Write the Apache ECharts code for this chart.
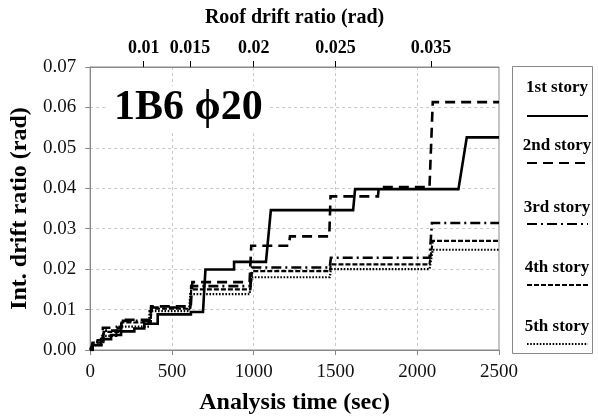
<!DOCTYPE html>
<html><head><meta charset="utf-8">
<script src="https://cdn.jsdelivr.net/npm/echarts@6/dist/echarts.min.js"></script>
<style>html,body{margin:0;padding:0;background:#fff}#c{width:598px;height:420px}</style>
</head><body><div id="c"></div>
<script>
// ---- data (time sec, inter-story drift ratio rad) ----
const storyNames = ['1st story', '2nd story', '3rd story', '4th story', '5th story'];
const story1 = [[0,0],[12,0],[12,0.0012],[67,0.0012],[67,0.0027],[128,0.0027],[128,0.0037],[189,0.0037],[189,0.0046],[270,0.0046],[270,0.0053],[331,0.0053],[331,0.0065],[413,0.0065],[413,0.0088],[616,0.0088],[616,0.0094],[690,0.0094],[705,0.0199],[880,0.0199],[880,0.0218],[1075,0.0218],[1105,0.0346],[1608,0.0346],[1620,0.0398],[2252,0.0398],[2303,0.0526],[2500,0.0526]];
const story2 = [[0,0],[15,0],[15,0.0024],[75,0.0024],[78,0.0055],[190,0.0055],[192,0.0075],[370,0.0075],[373,0.0108],[615,0.0108],[625,0.0168],[975,0.0168],[985,0.0258],[1215,0.0258],[1222,0.0281],[1462,0.0281],[1470,0.038],[1760,0.038],[1765,0.0403],[2075,0.0403],[2095,0.0613],[2500,0.0613]];
const story3 = [[0,0],[15,0],[15,0.002],[80,0.002],[82,0.0048],[190,0.0048],[192,0.0072],[370,0.0072],[373,0.0105],[612,0.0105],[618,0.0158],[980,0.0158],[990,0.0204],[1465,0.0204],[1472,0.0228],[2075,0.0228],[2090,0.0314],[2500,0.0314]];
const story4 = [[0,0],[15,0],[15,0.0018],[80,0.0018],[82,0.0045],[190,0.0045],[192,0.0068],[370,0.0068],[373,0.0102],[610,0.0102],[618,0.015],[980,0.015],[990,0.0195],[1465,0.0195],[1472,0.0212],[2075,0.0212],[2095,0.027],[2500,0.027]];
const story5 = [[0,0],[15,0],[15,0.0012],[70,0.0012],[72,0.0035],[160,0.0035],[162,0.0058],[360,0.0058],[363,0.0096],[605,0.0096],[612,0.0138],[975,0.0138],[985,0.018],[1465,0.018],[1472,0.020],[2075,0.020],[2095,0.0248],[2500,0.0248]];
const roofTickTimes = [327, 610, 1000, 1500, 2084];
const roofTickLabels = ['0.01', '0.015', '0.02', '0.025', '0.035'];
const annotationText = '1B6 \u03D520';

// ---- styles ----
const SERIF = '"Liberation Serif","Times New Roman",serif';
const dashStyles = [
  {type: 'solid', width: 2.6},
  {type: [10, 6], width: 2.6},
  {type: [10, 4, 2, 4], width: 2.6},
  {type: [5, 2], width: 2.2},
  {type: [1.6, 1.6], width: 2.2}
];
const legendTextY = [88, 146, 208, 268, 327];
const legendLineY = [116, 163, 224, 285, 344];

const allData = [story1, story2, story3, story4, story5];
const series = allData.map((d, i) => ({
  name: storyNames[i], type: 'line', data: d, xAxisIndex: 0, yAxisIndex: 0,
  showSymbol: false, symbol: 'none', silent: true,
  lineStyle: Object.assign({color: '#000', cap: 'butt', join: 'miter'}, dashStyles[i]),
  z: 10 - i
}));

const legendGraphics = [{
  type: 'rect', shape: {x: 512.5, y: 66.5, width: 80, height: 287},
  style: {fill: '#fff', stroke: '#888', lineWidth: 1}
}];
storyNames.forEach((n, i) => {
  legendGraphics.push({
    type: 'text', x: 557, y: legendTextY[i],
    style: {text: n, font: 'bold 17px ' + SERIF, fill: '#000', textAlign: 'center', textVerticalAlign: 'middle'}
  });
  const ls = dashStyles[i];
  legendGraphics.push({
    type: 'line', shape: {x1: 527, y1: legendLineY[i], x2: 588, y2: legendLineY[i]},
    style: {stroke: '#000', lineWidth: i === 0 ? 2 : 1.8, lineDash: ls.type === 'solid' ? null : ls.type, lineCap: 'butt'}
  });
});
legendGraphics.push({
  type: 'rect', z: 50, shape: {x: 106, y: 86, width: 162, height: 44}, style: {fill: '#fff'}
});
legendGraphics.push({
  type: 'text', x: 114, y: 108, z: 51,
  style: {text: annotationText, font: 'bold 42px ' + SERIF, fill: '#000', textVerticalAlign: 'middle'}
});

const chart = echarts.init(document.getElementById('c'), null, {renderer: 'canvas'});
chart.setOption({
  animation: false,
  backgroundColor: '#fff',
  grid: {left: 89, right: 99, top: 67, bottom: 67, show: true, borderColor: '#888', borderWidth: 1, backgroundColor: 'transparent'},
  xAxis: [{
    type: 'value', min: 0, max: 2500, interval: 500, position: 'bottom',
    name: 'Analysis time (sec)', nameLocation: 'middle', nameGap: 41,
    nameTextStyle: {fontFamily: SERIF, fontWeight: 'bold', fontSize: 24, color: '#000'},
    axisLine: {show: true, lineStyle: {color: '#888', width: 1}},
    axisTick: {show: true, length: 5, lineStyle: {color: '#888'}},
    axisLabel: {fontFamily: SERIF, fontSize: 19, color: '#111', margin: 13, formatter: v => String(v)},
    splitLine: {show: true, lineStyle: {color: '#c8c8c8', type: [3, 3], width: 1}}
  }, {
    type: 'value', min: 0, max: 2500, position: 'top',
    name: 'Roof drift ratio (rad)', nameLocation: 'middle', nameGap: 39,
    nameTextStyle: {fontFamily: SERIF, fontWeight: 'bold', fontSize: 20, color: '#000'},
    axisLine: {show: true, lineStyle: {color: '#888', width: 1}},
    axisTick: {show: true, length: 6, inside: false, customValues: roofTickTimes, lineStyle: {color: '#000', width: 1}},
    axisLabel: {fontFamily: SERIF, fontWeight: 'bold', fontSize: 18, color: '#000', margin: 10,
      customValues: roofTickTimes,
      formatter: v => { const k = roofTickTimes.indexOf(v); return k >= 0 ? roofTickLabels[k] : ''; }},
    splitLine: {show: false}
  }],
  yAxis: [{
    type: 'value', min: 0, max: 0.07, interval: 0.01,
    name: 'Int. drift ratio (rad)', nameLocation: 'middle', nameGap: 55, nameRotate: 90,
    nameTextStyle: {fontFamily: SERIF, fontWeight: 'bold', fontSize: 24, color: '#000'},
    axisLine: {show: true, lineStyle: {color: '#888', width: 1}},
    axisTick: {show: true, length: 5, lineStyle: {color: '#888'}},
    axisLabel: {fontFamily: SERIF, fontSize: 19, color: '#111', margin: 14, formatter: v => v.toFixed(2)},
    splitLine: {show: true, lineStyle: {color: '#c8c8c8', type: [3, 3], width: 1}}
  }],
  series: series,
  graphic: legendGraphics
});
</script></body></html>
